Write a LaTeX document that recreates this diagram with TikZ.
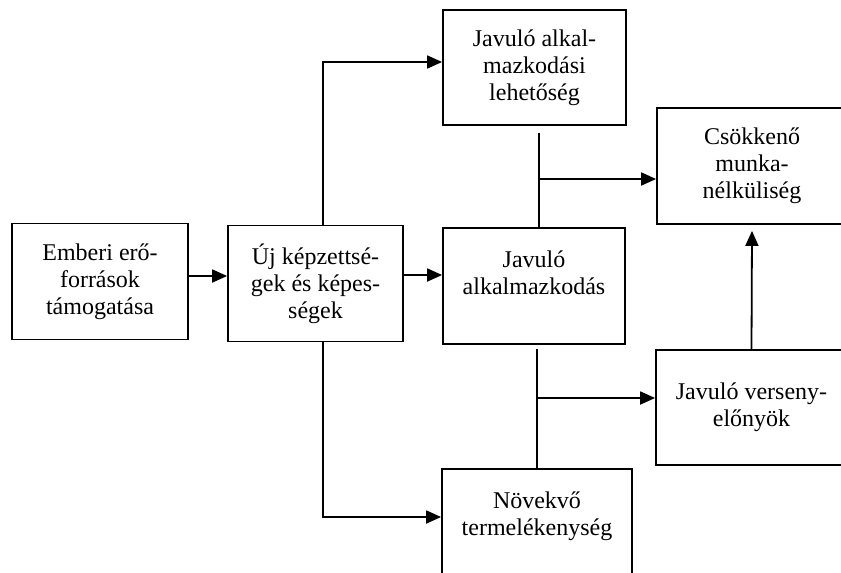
\documentclass[tikz,border=0pt]{standalone}
\usepackage{fontspec}
\setmainfont{Liberation Serif}
\usetikzlibrary{arrows.meta,positioning}

\begin{document}
\begin{tikzpicture}[
  x=0.5pt, y=-0.5pt,
  box/.style={draw, line width=0.9pt, minimum width=#1, minimum height=58pt,
              inner sep=2pt, align=center, font=\fontsize{12}{13.5}\selectfont},
  box/.default=91pt,
  arr/.style={-{Triangle[length=7.5pt,width=6.5pt]}, line width=0.9pt},
  line/.style={line width=0.9pt}
]
  \useasboundingbox (0,0) rectangle (841,573);

  % Left: input and skills
  \node[box=88pt] (supp) at (100,281.5) {Emberi erő-\\források\\támogatása};
  \node[box=87.5pt] (skill) at (315.5,283.5) {Új képzettsé-\\gek és képes-\\ségek};

  % Middle column
  \node[box=91.5pt, minimum height=57.5pt] (adopp) at (534.5,67.5)
    {Javuló alkal-\\mazkodási\\lehetőség};
  \node[box] (adapt) at (534,286) {Javuló\\alkalmazkodás\\ \mbox{}};
  \node[box=95pt] (prod) at (537,527) {Növekvő\\termelékenység\\ \mbox{}};

  % Right column
  \node[box=95pt] (unemp) at (752,166) {Csökkenő\\munka-\\nélküliség};
  \node[box=95.5pt, minimum height=57.5pt] (compet) at (751.5,407.5)
    {Javuló verseny-\\előnyök};

  % main chain
  \draw[arr] ([yshift=2.75pt]supp.east) -- ([yshift=2.75pt]supp.east -| skill.west);
  \draw[arr] ([yshift=4.25pt]skill.east) -- ([yshift=4.25pt]skill.east -| adapt.west);

  % branches from skills
  \draw[arr] ([xshift=3.75pt]skill.north) |- ([yshift=2.75pt]adopp.west);
  \draw[arr] ([xshift=3.75pt]skill.south) |- ([yshift=5pt]prod.west);

  % to unemployment
  \coordinate (j1) at ([shift={(2.25pt,-3.5pt)}]adopp.south);
  \draw[line] (j1) -- (j1 |- adapt.north);
  \draw[arr] ([yshift=-6.5pt]unemp.west -| j1) -- ([yshift=-6.5pt]unemp.west);

  % to competitiveness
  \coordinate (j2) at ([shift={(1.5pt,-2pt)}]adapt.south);
  \draw[line] (j2) -- (j2 |- prod.north);
  \draw[arr] ([yshift=4.75pt]compet.west -| j2) -- ([yshift=4.75pt]compet.west);

  \draw[arr] (compet.north) -- ([yshift=-3pt]unemp.south);
\end{tikzpicture}
\end{document}
